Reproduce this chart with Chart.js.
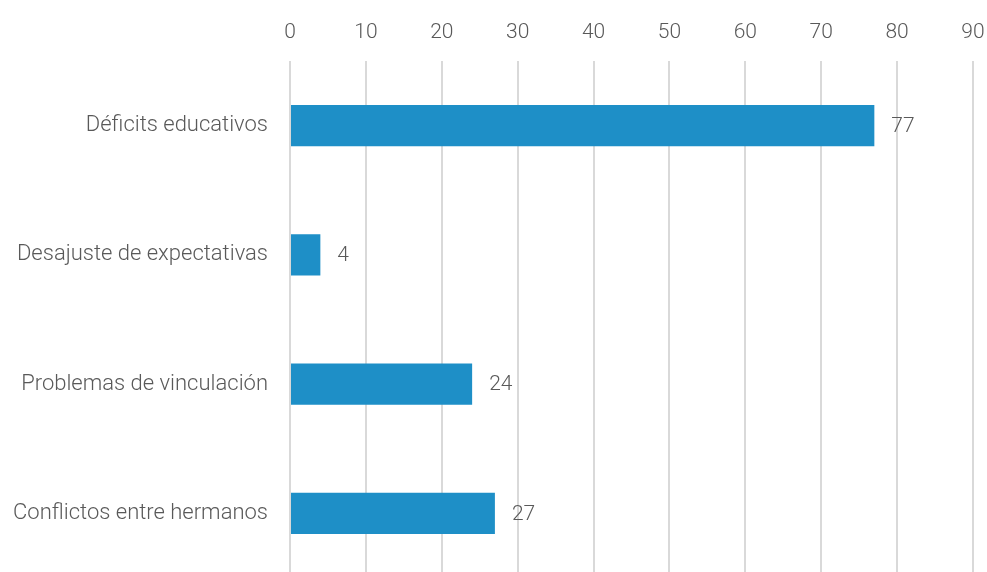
<!DOCTYPE html>
<html>
<head>
<meta charset="utf-8">
<script src="https://cdn.jsdelivr.net/npm/chart.js@4"></script>
<style>
  html, body { margin: 0; padding: 0; background: #fff; overflow: hidden; }
  /* canvas is a little taller than the window: the last band runs past the bottom edge */
  #wrap { width: 987px; height: 572px; overflow: hidden; }
</style>
</head>
<body>
<div id="wrap"><canvas id="chart" width="987" height="578"></canvas></div>
<script>
// Chart data
const categories = ["Déficits educativos", "Desajuste de expectativas", "Problemas de vinculación", "Conflictos entre hermanos"];
const values = [77, 4, 24, 27];

const textColor = "#595959";
const fontFamily = "Roboto, 'Noto Sans', sans-serif";

// Value labels at the end of each bar
const valueLabels = {
  id: "valueLabels",
  afterDatasetsDraw(chart) {
    const ctx = chart.ctx;
    const meta = chart.getDatasetMeta(0);
    ctx.save();
    ctx.fillStyle = textColor;
    ctx.font = "300 21px " + fontFamily;
    ctx.textAlign = "left";
    ctx.textBaseline = "middle";
    meta.data.forEach((bar, i) => {
      ctx.fillText(String(values[i]), bar.x + 17, bar.y + 1);
    });
    ctx.restore();
  }
};

new Chart(document.getElementById("chart"), {
  type: "bar",
  data: {
    labels: categories,
    datasets: [{
      data: values,
      backgroundColor: "#1e8fc7",
      barPercentage: 0.32,
      categoryPercentage: 1
    }]
  },
  options: {
    indexAxis: "y",
    responsive: false,
    animation: false,
    layout: { padding: { right: 14, top: 0, bottom: 0, left: 0 } },
    plugins: { legend: { display: false }, tooltip: { enabled: false } },
    scales: {
      x: {
        position: "top",
        min: 0,
        max: 90,
        ticks: { stepSize: 10, color: textColor, padding: 16, font: { family: fontFamily, size: 21, weight: 300 } },
        grid: { color: "#d9d9d9", lineWidth: 2, drawTicks: false },
        border: { display: false },
        afterFit(scale) {
          scale.height = 61;
          scale.paddingLeft = 0;
          scale.paddingRight = 0;
        }
      },
      y: {
        ticks: { color: textColor, padding: 22, font: { family: fontFamily, size: 22, weight: 300 } },
        grid: { display: false, drawTicks: false },
        border: { display: false },
        afterFit(scale) {
          scale.width = 290;
          scale.paddingTop = 0;
          scale.paddingBottom = 0;
        }
      }
    }
  },
  plugins: [valueLabels]
});
</script>
</body>
</html>
